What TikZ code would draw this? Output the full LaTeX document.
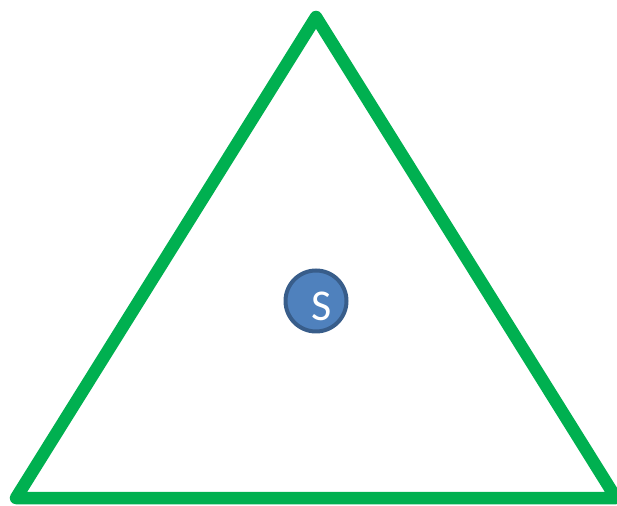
\documentclass[tikz,border=0pt]{standalone}
\usepackage{fontspec}
\setmainfont{Carlito}
\usepackage{xcolor}
\usetikzlibrary{positioning}

\definecolor{trigreen}{HTML}{00B050}
\definecolor{srcfill}{HTML}{4F81BD}
\definecolor{srcdraw}{HTML}{385D8A}

\begin{document}
\begin{tikzpicture}[x=1pt, y=1pt]
        \tikzstyle{edge} = [draw=trigreen, line width=12.5pt, line join=round]
        \tikzstyle{source} = [draw=srcdraw, fill=srcfill, circle, line width=4pt, minimum size=61pt, inner sep=0pt]
        \tikzstyle{srclabel} = [text=white, font=\fontsize{44}{50}\selectfont, xshift=6pt, yshift=-5pt]

        \useasboundingbox (0,0) rectangle (617,505);

        % --- Ecken des Dreiecks ---
        \coordinate (top) at (316,488);
        \coordinate (left) at (16,7);
        \coordinate (right) at (616,7);

        % --- Dreieck ---
        \draw [edge] (top) -- (left) -- (right) -- cycle;

        % --- Quelle ---
        \node [source, label={[srclabel]center:S}] (src) at (316,204) {};
    \end{tikzpicture}
\end{document}
